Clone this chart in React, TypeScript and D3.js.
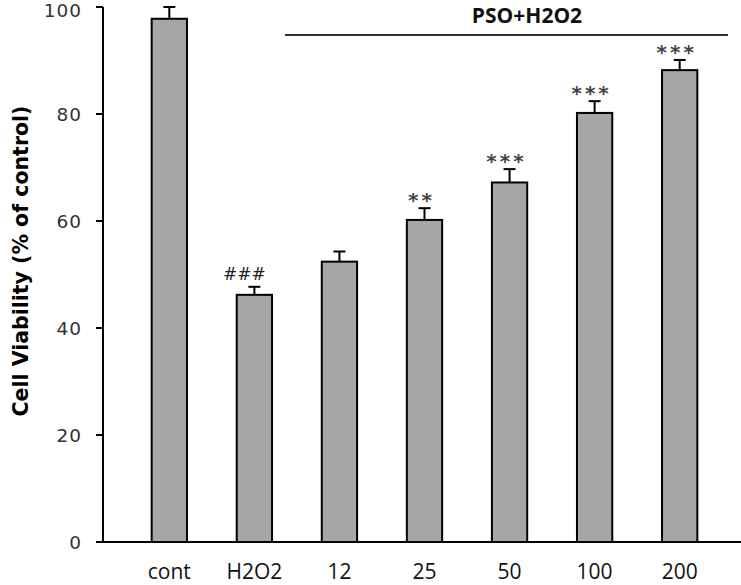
import React from "react";
import * as d3 from "d3";

const categories = ["cont", "H2O2", "12", "25", "50", "100", "200"];
const means = [97.8, 46.2, 52.4, 60.2, 67.2, 80.2, 88.2];
const errors = [2.2, 1.5, 1.9, 2.2, 2.5, 2.2, 1.9];
const marks = ["", "###", "", "**", "***", "***", "***"];
const yTicks = [0, 20, 40, 60, 80, 100];
const groupLabel = "PSO+H2O2";
const yLabel = "Cell Viability (% of control)";

export default function App() {
  const W = 741, H = 585;
  const axisX = 103;
  const y = d3.scaleLinear().domain([0, 100]).range([542, 7]);
  const x = d3.scaleBand().domain(categories).range([127, 722]).paddingInner(0.585).paddingOuter(0.29);
  const bw = x.bandwidth();
  const cx = (c: string) => (x(c) as number) + bw / 2;
  const capW = 12;

  return (
    <svg width={W} height={H} style={{ position: "absolute", left: 0, top: 0, background: "#fff" }}>
      {categories.map((c, i) => (
        <g key={c}>
          <line x1={cx(c)} x2={cx(c)} y1={y(means[i])} y2={y(means[i] + errors[i])} stroke="#000" strokeWidth={2} />
          <line x1={cx(c) - capW / 2} x2={cx(c) + capW / 2} y1={y(means[i] + errors[i])} y2={y(means[i] + errors[i])} stroke="#000" strokeWidth={2} />
          <rect x={x(c)} y={y(means[i])} width={bw} height={y(0) - y(means[i])} fill="#a6a6a6" stroke="#000" strokeWidth={2} />
          {marks[i] === "###" && (
            <text x={cx(c) - 10} y={y(means[i] + errors[i]) - 7} textAnchor="middle" fontFamily="DejaVu Sans" fontSize={17} fill="#222">{marks[i]}</text>
          )}
          {marks[i].startsWith("*") && (
            <text x={cx(c) - 3} y={y(means[i] + errors[i]) - 1} textAnchor="middle" fontFamily="DejaVu Sans" fontWeight={700} fontSize={20} letterSpacing={3} fill="#444">{marks[i]}</text>
          )}
          <text x={cx(c)} y={579} textAnchor="middle" fontFamily="Open Sans" fontSize={21} fill="#111">{c}</text>
        </g>
      ))}
      <line x1={axisX} x2={axisX} y1={y(100)} y2={y(0)} stroke="#000" strokeWidth={2} />
      {yTicks.map((t) => (
        <g key={t}>
          <line x1={96} x2={axisX} y1={y(t)} y2={y(t)} stroke="#000" strokeWidth={2} />
          <text x={82} y={Math.max(y(t) + 6.7, 17)} textAnchor="end" fontFamily="DejaVu Sans" fontSize={18.5} letterSpacing={1} fill="#333">{t}</text>
        </g>
      ))}
      <line x1={96} x2={W} y1={y(0)} y2={y(0)} stroke="#000" strokeWidth={2} />
      <line x1={285} x2={728} y1={35} y2={35} stroke="#333" strokeWidth={2} />
      <text x={527} y={23} textAnchor="middle" fontFamily="Open Sans" fontWeight={700} fontSize={21} fill="#111">{groupLabel}</text>
      <text transform="translate(28,261) rotate(-90)" textAnchor="middle" fontFamily="DejaVu Sans" fontWeight={700} fontSize={20.5} fill="#000">{yLabel}</text>
    </svg>
  );
}
